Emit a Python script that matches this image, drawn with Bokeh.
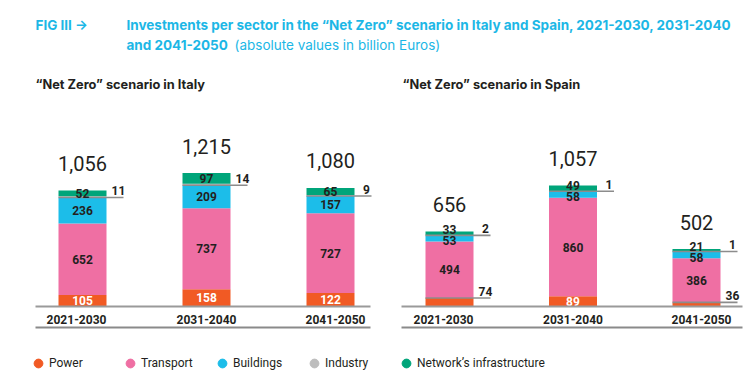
import numpy as np
from bokeh.plotting import figure
from bokeh.models import Range1d, Label, Legend, LegendItem
from bokeh.embed import file_html
from bokeh.resources import INLINE
from bokeh.core.properties import value

# ---------------- data ----------------
periods = ["2021-2030", "2031-2040", "2041-2050"]
sectors = ["Power", "Transport", "Buildings", "Industry", "Network’s infrastructure"]

italy_power = [105, 158, 122]
italy_transport = [652, 737, 727]
italy_buildings = [236, 209, 157]
italy_industry = [11, 14, 9]
italy_network = [52, 97, 65]

spain_power = [74, 89, 36]
spain_transport = [494, 860, 386]
spain_buildings = [53, 58, 58]
spain_industry = [2, 1, 1]
spain_network = [33, 49, 21]

title_fig = "FIG III →"
title_line1 = "Investments per sector in the “Net Zero” scenario in Italy and Spain, 2021-2030, 2031-2040"
title_line2_bold = "and 2041-2050"
title_line2_reg = "(absolute values in billion Euros)"
subtitle_italy = "“Net Zero” scenario  in Italy"
subtitle_spain = "“Net Zero” scenario in Spain"

# ---------------- style / layout ----------------
colors = ["#f15a24", "#ef6fa3", "#1cbde9", "#bdbdbd", "#00a57a"]
NUMFONT = "Roboto"
TXTFONT = "Inter"
DARK = "#231f20"
CYAN = "#1cb7e6"
W, H = 750, 377
BASE = 306          # baseline, px from top
MIN_GAP = 11.5      # min px distance between stacked inside labels
keys = ["power", "transport", "buildings", "industry", "network"]
cat_label_shift = [-6, 0, 5]   # px nudges of the period labels

IT = dict(ppu=0.1098, spacing=124.0, first=82, lo=35, hi=370)
ES = dict(ppu=0.1145, spacing=123.5, first=449, lo=401, hi=742)

p = figure(width=W, height=H, output_backend="svg", toolbar_location=None,
           x_range=Range1d(-IT["first"] / IT["spacing"], (W - IT["first"]) / IT["spacing"]),
           y_range=Range1d(-(H - BASE) / IT["ppu"], BASE / IT["ppu"]),
           min_border=0, x_axis_location=None, y_axis_location=None)
p.extra_x_ranges = {"es": Range1d(-ES["first"] / ES["spacing"], (W - ES["first"]) / ES["spacing"])}
p.extra_y_ranges = {"es": Range1d(-(H - BASE) / ES["ppu"], BASE / ES["ppu"])}
p.grid.visible = False
p.outline_line_color = None


def draw_country(vals, cfg, xr, yr):
    kw = dict(x_range_name=xr, y_range_name=yr)
    ppu, spacing = cfg["ppu"], cfg["spacing"]
    xs = list(range(len(periods)))
    xa = np.array(xs, dtype=float)
    w = 48 / spacing
    src = dict(x=xs, **{k: v for k, v in zip(keys, vals)})
    p.vbar_stack(keys, x="x", width=w, fill_color=colors, line_color=None, source=src, **kw)

    arr = np.array(vals, dtype=float)
    tops = np.cumsum(arr, axis=0)
    mids = tops - arr / 2
    totals = tops[-1]

    # push apart the network / buildings labels when their segments are thin
    yoff = np.zeros_like(arr)
    for j in range(len(xs)):
        gap = (mids[4, j] - mids[2, j]) * ppu
        if gap < MIN_GAP:
            need = MIN_GAP - gap
            yoff[4, j] = -0.6 * need
            yoff[2, j] = 0.4 * need

    in_x, in_y, in_t, in_c, in_o = [], [], [], [], []
    out_x, out_y, out_t, seg_x0, seg_x1 = [], [], [], [], []
    for i, k in enumerate(keys):
        for j in range(len(xs)):
            v = arr[i, j]
            if k == "industry" or (k == "power" and v * ppu < 9.5):
                ly = tops[2, j] if k == "industry" else tops[0, j]
                out_x.append(xa[j] + w / 2)
                out_y.append(ly)
                out_t.append(f"{int(v)}")
                seg_x0.append(xa[j] - w / 2)
                seg_x1.append(xa[j] + w / 2 + 17 / spacing)
            else:
                in_x.append(xa[j])
                in_y.append(mids[i, j])
                in_t.append(f"{int(v)}")
                in_c.append("#ffffff" if k == "power" else DARK)
                in_o.append(float(yoff[i, j]))

    p.segment(x0=seg_x0, y0=out_y, x1=seg_x1, y1=out_y, line_color="#8c8c8c",
              line_width=1.6, **kw)
    p.text(x=in_x, y=in_y, text=in_t, text_color=in_c, text_font=value(NUMFONT),
           text_font_size="12px", text_font_style="bold", text_align="center",
           text_baseline="middle", y_offset=in_o, **kw)
    p.text(x=out_x, y=out_y, text=out_t, text_color=DARK, text_font=value(NUMFONT),
           text_font_size="12px", text_font_style="bold", text_align="center",
           text_baseline="middle", x_offset=12, y_offset=-7, **kw)
    p.text(x=xa, y=totals, text=[f"{int(t):,}" for t in totals], text_color=DARK,
           text_font=value(NUMFONT), text_font_size="20px", text_align="center",
           text_baseline="middle", y_offset=-27, **kw)

    # baseline and bottom rule
    x_lo = (cfg["lo"] - cfg["first"]) / spacing
    x_hi = (cfg["hi"] - cfg["first"]) / spacing
    y_rule = -21 / ppu
    p.segment(x0=[x_lo, x_lo], y0=[0, y_rule], x1=[x_hi, x_hi], y1=[0, y_rule],
              line_color=["#9a9a9a", "#8a8a8a"], line_width=2, **kw)
    # category labels
    p.text(x=xa, y=[0] * len(xs), text=periods, text_color=DARK, text_font=value(NUMFONT),
           text_font_size="12px", text_font_style="bold", text_align="center",
           text_baseline="middle", x_offset=cat_label_shift, y_offset=13, **kw)


draw_country([italy_power, italy_transport, italy_buildings, italy_industry, italy_network],
             IT, "default", "default")
draw_country([spain_power, spain_transport, spain_buildings, spain_industry, spain_network],
             ES, "es", "es")


# ---------------- header texts ----------------
def lab(x, y, t, color, bold=True, size="13.5px"):
    p.add_layout(Label(x=x, y=H - y, x_units="screen", y_units="screen", text=t,
                       text_font=TXTFONT, text_font_size=size,
                       text_font_style="bold" if bold else "normal", text_color=color,
                       text_baseline="middle", text_align="left"))


lab(35, 24, title_fig, CYAN)
lab(126, 24, title_line1, CYAN)
lab(126, 44, title_line2_bold, CYAN)
lab(234, 44, title_line2_reg, CYAN, bold=False)
lab(35, 84, subtitle_italy, DARK, size="12.8px")
lab(402, 84, subtitle_spain, DARK, size="12.8px")

# ---------------- legend ----------------
items = []
for name, c in zip(sectors, colors):
    r = p.scatter(x=[np.nan], y=[np.nan], size=9, marker="circle", fill_color=c, line_color=c)
    items.append(LegendItem(label=name, renderers=[r]))
legend = Legend(items=items, orientation="horizontal", location=(27, 3),
                glyph_width=22, glyph_height=22, label_width=70, label_height=22,
                label_standoff=0, spacing=0, padding=0, margin=0,
                border_line_color=None, background_fill_alpha=0,
                label_text_font=NUMFONT, label_text_font_size="12px", label_text_color=DARK)
p.add_layout(legend)

open("out.html", "w").write(file_html(p, INLINE))
